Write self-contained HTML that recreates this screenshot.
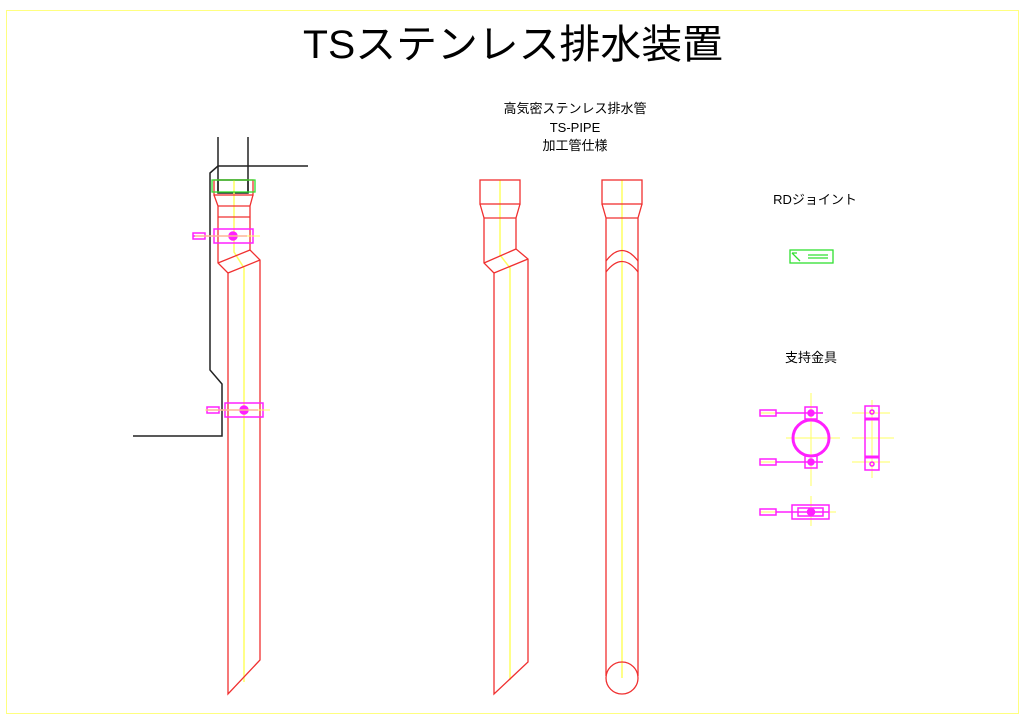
<!DOCTYPE html>
<html><head><meta charset="utf-8"><style>
html,body{margin:0;padding:0;background:#fff;}
svg{display:block;}
text{font-family:"Liberation Sans","Noto Sans CJK JP",sans-serif;fill:#000;}
</style></head><body>
<svg width="1024" height="724" viewBox="0 0 1024 724" xmlns="http://www.w3.org/2000/svg">
<rect x="6.5" y="10.5" width="1012" height="703" fill="none" stroke="#ffff80" stroke-width="1"/>
<text x="513" y="58" font-size="40" text-anchor="middle" textLength="420" lengthAdjust="spacingAndGlyphs">TSステンレス排水装置</text>
<text x="575" y="113" font-size="13" text-anchor="middle">高気密ステンレス排水管</text>
<text x="575" y="132" font-size="13" text-anchor="middle">TS-PIPE</text>
<text x="575" y="150" font-size="13" text-anchor="middle">加工管仕様</text>
<text x="815" y="204" font-size="13" text-anchor="middle">RDジョイント</text>
<text x="811" y="362" font-size="13" text-anchor="middle">支持金具</text>

<!-- Left assembly -->
<g fill="none" stroke="#222" stroke-width="1.5">
<path d="M218 137V193M248 137V193M218 166H308"/>
<path d="M218 166L210 173V370L222 384V436H133"/>
<rect x="218" y="180" width="30" height="13"/>
</g>
<g fill="none" stroke="#ffff60" stroke-width="1.5">
<path d="M234 180V252L244 268V682"/>
</g>
<g fill="none" stroke="#f03030" stroke-width="1.3">
<rect x="214" y="180" width="39" height="15"/>
<path d="M214 195L218 206V263L228 273V694L260 660V260L250 250V206L253 195"/>
<path d="M218 206H250M218 217H250M218 263L250 250M228 273L260 260"/>
</g>
<rect x="212" y="180" width="43" height="12" fill="none" stroke="#30e030" stroke-width="1.3"/>
<g fill="none" stroke="#ff20ff" stroke-width="1.5">
<rect x="214" y="229" width="39" height="14"/>
<path d="M193 236H247"/><rect x="193" y="233" width="12" height="6"/>
<circle cx="233" cy="236" r="4" fill="#ff20ff"/>
<rect x="225" y="403" width="38" height="14"/>
<path d="M207 410H258"/><rect x="207" y="407" width="12" height="6"/>
<circle cx="244" cy="410" r="4" fill="#ff20ff"/>
</g>
<path d="M195 236H260M205 410H270" stroke="#ffff60" stroke-width="1"/>

<!-- Middle pipe 1 -->
<path d="M500 180V255L510 268V680" fill="none" stroke="#ffff60" stroke-width="1.5"/>
<g fill="none" stroke="#f03030" stroke-width="1.3">
<rect x="480" y="180" width="40" height="24"/>
<path d="M480 204L484 218V263L494 273V694L528 662V259L516 249V218L520 204"/>
<path d="M484 218H516M484 263L516 249M494 273L528 259"/>
</g>

<!-- Middle pipe 2 -->
<path d="M622 180V678" fill="none" stroke="#ffff60" stroke-width="1.5"/>
<g fill="none" stroke="#f03030" stroke-width="1.3">
<rect x="602" y="180" width="40" height="24"/>
<path d="M602 204L606 218V676M642 204L638 218V676M606 218H638"/>
<path d="M606 261Q622 240 638 261M606 272Q622 251 638 272"/>
<circle cx="622" cy="678" r="16"/>
</g>

<!-- RD joint -->
<g fill="none" stroke="#30e030" stroke-width="1.3">
<rect x="790" y="250" width="43" height="13"/>
<path d="M792 253L800 261M792 253H797M808 255H828M808 258H828"/>
</g>

<!-- Clamps -->
<g fill="none" stroke="#ffff60" stroke-width="1">
<path d="M811 393V486M786 438H840M760 413H823M760 462H823M872 400V478M852 438H894M852 413H890M852 462H890M811 496V526M760 512H836"/>
</g>
<g fill="none" stroke="#ff20ff" stroke-width="1.5">
<circle cx="811" cy="438" r="18" stroke-width="3"/>
<rect x="760" y="410" width="16" height="6"/><path d="M776 413H823"/>
<rect x="805" y="407" width="12" height="12"/>
<rect x="760" y="459" width="16" height="6"/><path d="M776 462H823"/>
<rect x="805" y="456" width="12" height="12"/>
<circle cx="811" cy="413" r="3" fill="#ff20ff"/><circle cx="811" cy="462" r="3" fill="#ff20ff"/>
<rect x="865" y="406" width="14" height="64"/>
<path d="M865 419H879M865 457H879" stroke-width="3"/>
<circle cx="872" cy="412" r="2"/><circle cx="872" cy="464" r="2"/>
<rect x="792" y="505" width="37" height="14"/>
<rect x="798" y="508" width="25" height="8"/>
<rect x="760" y="509" width="16" height="6"/><path d="M776 512H829"/>
<circle cx="811" cy="512" r="3.5" fill="#ff20ff"/>
</g>
</svg>
</body></html>
